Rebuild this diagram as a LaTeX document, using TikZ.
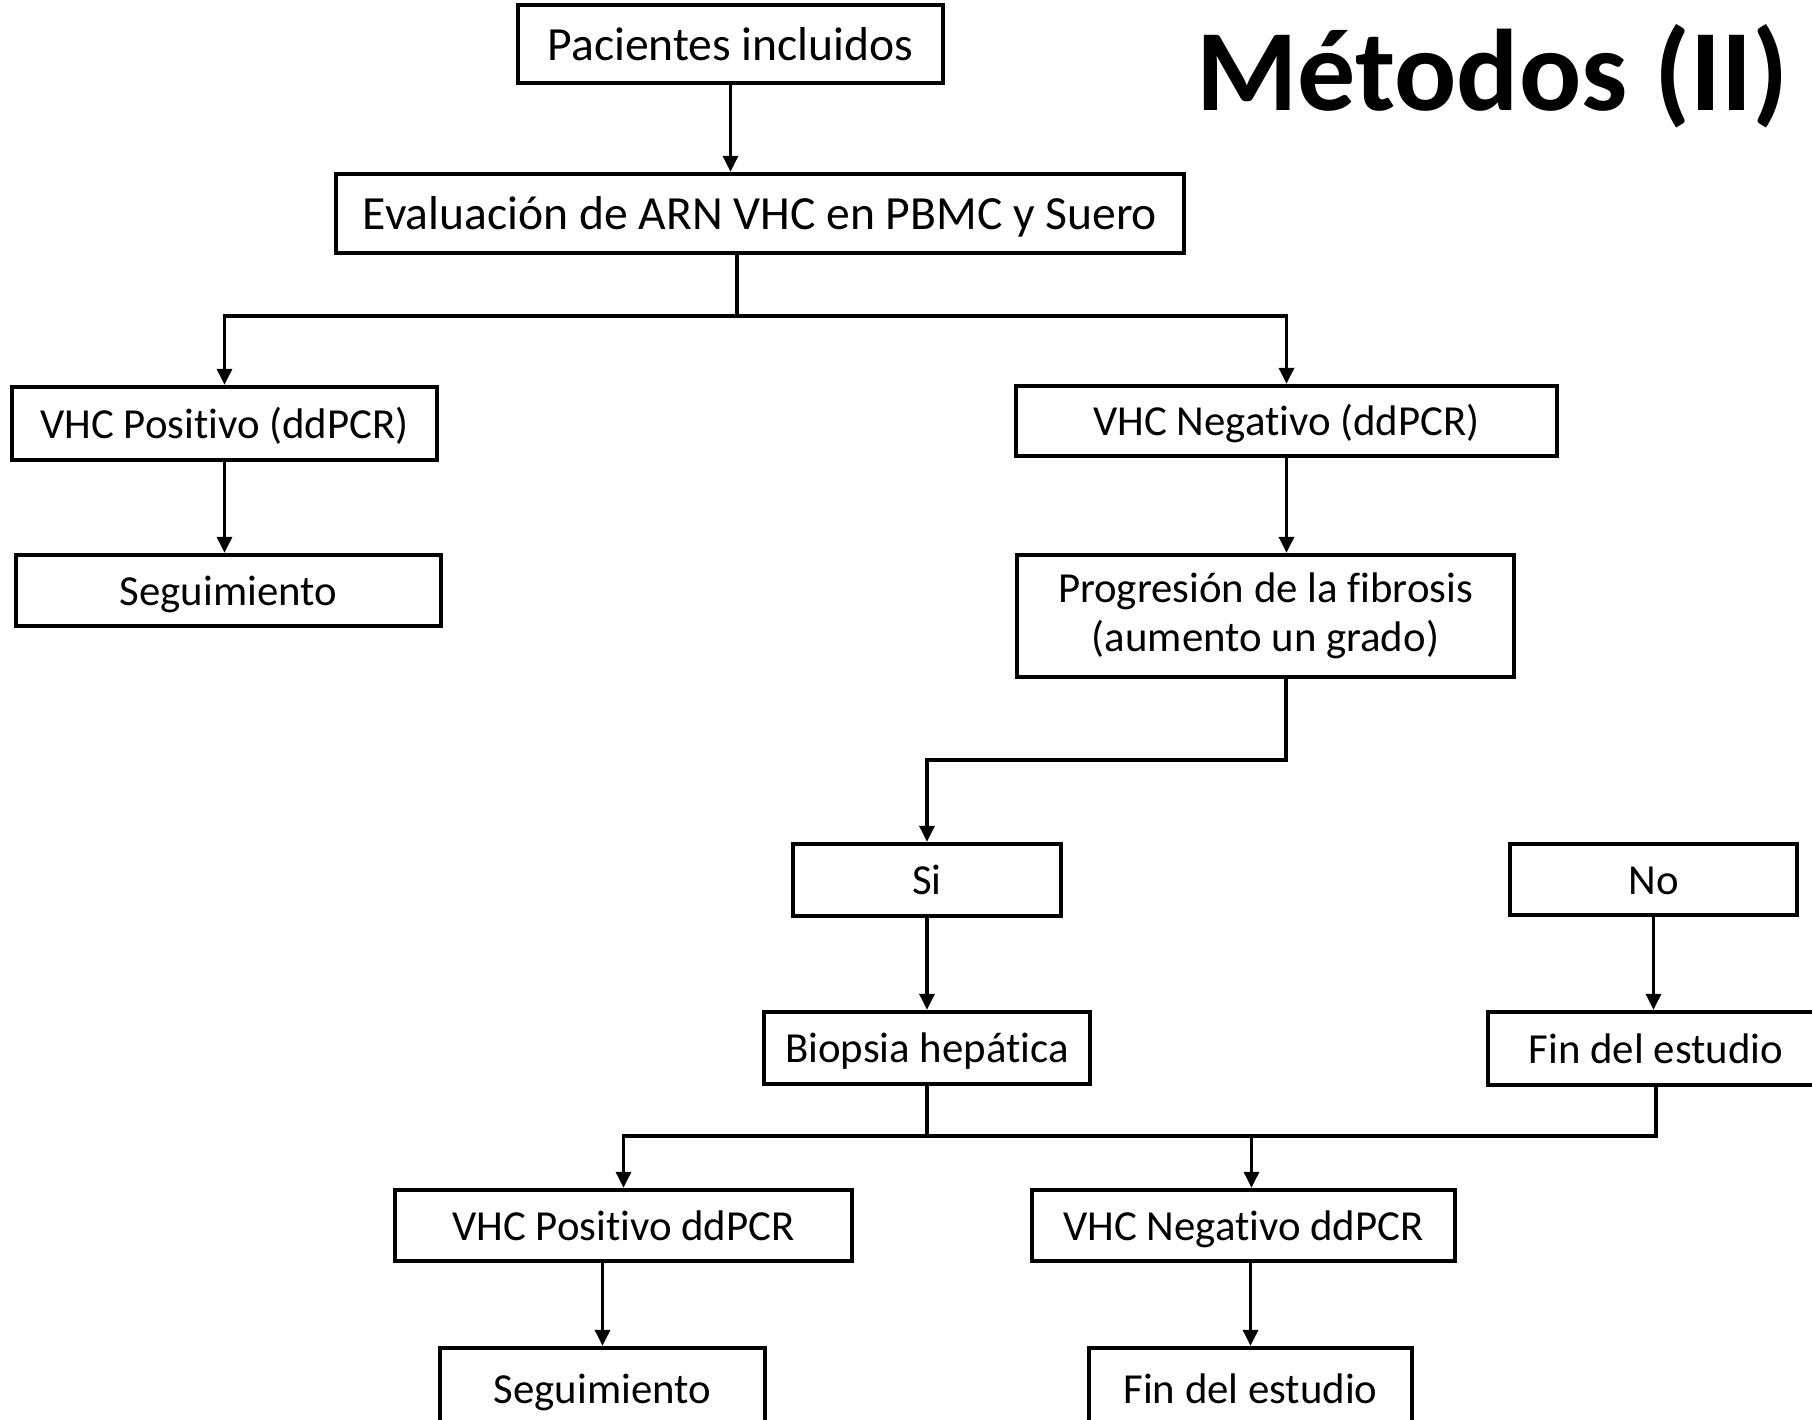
\documentclass[tikz,border=0pt]{standalone}
\usepackage{fontspec}
\setmainfont{Carlito}[Ligatures=NoCommon]
\usetikzlibrary{arrows.meta}

\begin{document}
\begin{tikzpicture}[x=0.5pt,y=0.5pt,yscale=-1,
    caja/.style={draw, line width=2.2pt, inner sep=0pt, align=center,
      font=\fontsize{21.4}{24.3}\selectfont},
    una/.style={caja, text height=16.2pt, text depth=1.5pt},
    grande/.style={una, font=\fontsize{23.8}{24.5}\selectfont, text height=17.7pt, text depth=1.6pt},
    linea/.style={line width=1.65pt},
    flecha/.style={linea, -{Triangle[length=8pt,width=7.5pt]}}]
    \useasboundingbox (0,0) rectangle (1812,1420);

    % Title
    \node [anchor=base west, inner sep=0pt, font=\fontsize{58}{60}\selectfont\bfseries] (titulo) at (1196,110) {Métodos (II)};

    % Boxes
    \node [grande, minimum width=212.5pt, minimum height=39pt] (pac) at (730.5,44) {Pacientes incluidos};
    \node [grande, minimum width=424pt, minimum height=39.5pt] (eval) at (760,213.5) {Evaluación de ARN VHC en PBMC y Suero};
    \node [una, minimum width=212.5pt, minimum height=36.5pt] (vhcpos) at (224.5,423.5) {VHC Positivo (ddPCR)};
    \node [una, minimum width=212.5pt, minimum height=35.5pt] (seg1) at (228.5,590.5) {Seguimiento};
    \node [una, minimum width=270.5pt, minimum height=35pt] (vhcneg) at (1286.5,421) {VHC Negativo (ddPCR)};
    \node [caja, minimum width=248.5pt, minimum height=61pt] (prog) at (1265.5,616) {Progresión de la fibrosis\\(aumento un grado)};
    \node [una, minimum width=134pt, minimum height=36pt] (si) at (927,880) {Si};
    \node [una, minimum width=143.5pt, minimum height=35.5pt] (no) at (1653.5,879.5) {No};
    \node [una, minimum width=163pt, minimum height=36pt] (biop) at (927,1048) {Biopsia hepática};
    \node [una, minimum width=168pt, minimum height=36.5pt] (fin1) at (1656,1048.5) {Fin del estudio};
    \node [una, minimum width=228.5pt, minimum height=35.5pt] (vpos2) at (623.5,1225.5) {VHC Positivo ddPCR};
    \node [una, minimum width=211.5pt, minimum height=35.5pt] (vneg2) at (1243.5,1225.5) {VHC Negativo ddPCR};
    \node [una, minimum width=162.5pt, minimum height=41pt] (seg2) at (602.5,1389) {Seguimiento};
    \node [una, minimum width=161.5pt, minimum height=41pt] (fin2) at (1250.5,1389) {Fin del estudio};

    % Junction points
    \coordinate (split1) at (737,316);
    \coordinate (codo) at (1286,760);
    \coordinate (union) at (927,1136);

    % Connectors
    \draw [flecha] (pac.south) -- (pac.south |- eval.north);
    \draw [linea] (eval.south -| split1) -- (split1);
    \draw [flecha] (split1) -| (vhcpos.north);
    \draw [flecha] (split1) -| (vhcneg.north);
    \draw [flecha] (vhcpos.south) -- (vhcpos.south |- seg1.north);
    \draw [flecha] (vhcneg.south) -- (vhcneg.south |- prog.north);
    \draw [flecha] (prog.south -| codo) -- (codo) -| (si.north);
    \draw [flecha] (si.south) -- (biop.north);
    \draw [flecha] (no.south) -- (no.south |- fin1.north);
    \draw [linea] (biop.south) -- (union);
    \draw [linea] (fin1.south) |- (union);
    \draw [flecha] (union) -| (vpos2.north);
    \draw [flecha] (union) -| ([xshift=4pt]vneg2.north);
    \draw [flecha] (seg2.north |- vpos2.south) -- (seg2.north);
    \draw [flecha] (fin2.north |- vneg2.south) -- (fin2.north);

\end{tikzpicture}
\end{document}
